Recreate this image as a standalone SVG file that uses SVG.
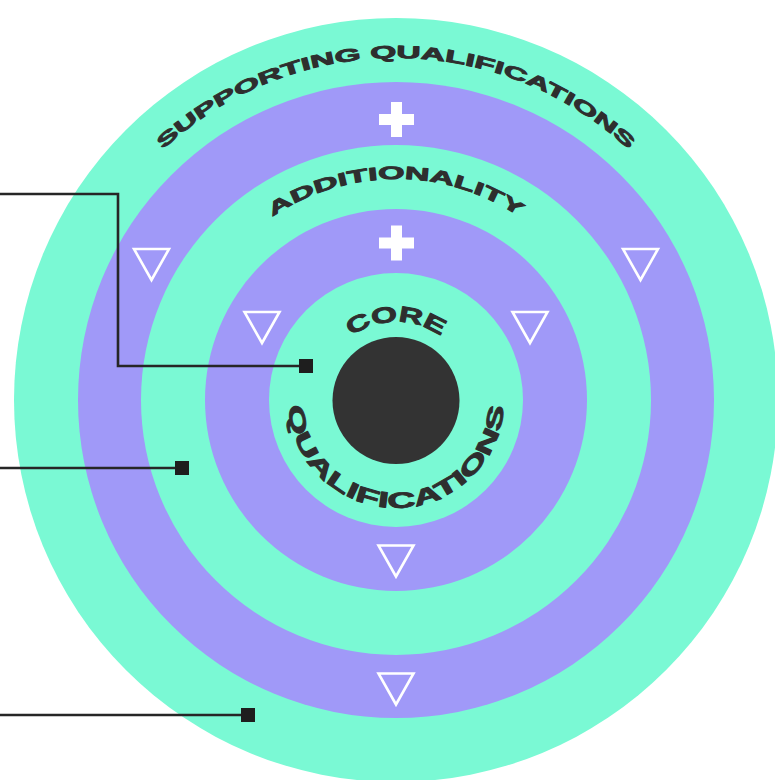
<svg xmlns="http://www.w3.org/2000/svg" xmlns:xlink="http://www.w3.org/1999/xlink" width="775" height="780" viewBox="0 0 775 780">
<style>
.g{fill:#7AF9D4}
.p{fill:#A099F8}
.lbl{font-family:"Liberation Sans",Arial,sans-serif;font-weight:bold;fill:#2E2E2E;stroke:#2E2E2E;stroke-width:0.9;stroke-linejoin:round}
.s1{font-size:17.5px}
.s2{font-size:18px}
.s3{font-size:22px}
.tri{fill:none;stroke:#FFFFFF;stroke-width:2.6;stroke-linejoin:miter}
.plus{fill:#FFFFFF}
.con{fill:none;stroke:#262626;stroke-width:2.6}
.end{fill:#1E1E1E}
</style>
<defs>
<path id="arcTop342" d="M54,400 A342,342 0 0 1 738,400"/>
<path id="arcTop221" d="M175,400 A221,221 0 0 1 617,400"/>
<path id="arcTop78" d="M318,400 A78,78 0 0 1 474,400"/>
<path id="arcBot108" d="M288,400 A108,108 0 0 0 504,400"/>
<path id="tri" d="M-17.5,-15.5 L17.5,-15.5 L0,15.5 Z"/>
<path id="plus" d="M-5.5,-17.5 H5.5 V-5.5 H17.5 V5.5 H5.5 V17.5 H-5.5 V5.5 H-17.5 V-5.5 H-5.5 Z"/>
</defs>
<g id="ring-supporting">
<circle class="g" cx="396" cy="400" r="382"/>
<text class="lbl s1"><textPath href="#arcTop342" startOffset="50%" text-anchor="middle" textLength="512" lengthAdjust="spacingAndGlyphs">SUPPORTING QUALIFICATIONS</textPath></text>
</g>
<g id="ring-supporting-inner">
<circle class="p" cx="396" cy="400" r="318"/>
<use href="#plus" class="plus" x="396.5" y="119.5"/>
<use href="#tri" class="tri" x="151.5" y="264.5"/>
<use href="#tri" class="tri" x="640.5" y="264.5"/>
<use href="#tri" class="tri" x="396" y="689"/>
</g>
<g id="ring-additionality">
<circle class="g" cx="396" cy="400" r="255"/>
<text class="lbl s2"><textPath href="#arcTop221" startOffset="50%" text-anchor="middle" textLength="262" lengthAdjust="spacingAndGlyphs">ADDITIONALITY</textPath></text>
</g>
<g id="ring-additionality-inner">
<circle class="p" cx="396" cy="400" r="191"/>
<use href="#plus" class="plus" x="396.5" y="243"/>
<use href="#tri" class="tri" x="262" y="327.5"/>
<use href="#tri" class="tri" x="530" y="327.5"/>
<use href="#tri" class="tri" x="396" y="561"/>
</g>
<g id="ring-core">
<circle class="g" cx="396" cy="400" r="127"/>
<text class="lbl s3"><textPath href="#arcTop78" startOffset="50%" text-anchor="middle" textLength="96" lengthAdjust="spacingAndGlyphs">CORE</textPath></text>
<text class="lbl s3"><textPath href="#arcBot108" startOffset="50%" text-anchor="middle" textLength="326" lengthAdjust="spacingAndGlyphs">QUALIFICATIONS</textPath></text>
</g>
<g id="core-center">
<circle cx="396" cy="400.5" r="63.5" fill="#333333"/>
</g>
<g id="connectors">
<polyline class="con" points="0,194 118,194 118,366 306,366"/>
<rect class="end" x="299" y="359" width="14" height="14"/>
<line class="con" x1="0" y1="468" x2="182" y2="468"/>
<rect class="end" x="175" y="461" width="14" height="14"/>
<line class="con" x1="0" y1="715" x2="248" y2="715"/>
<rect class="end" x="241" y="708" width="14" height="14"/>
</g>
</svg>
